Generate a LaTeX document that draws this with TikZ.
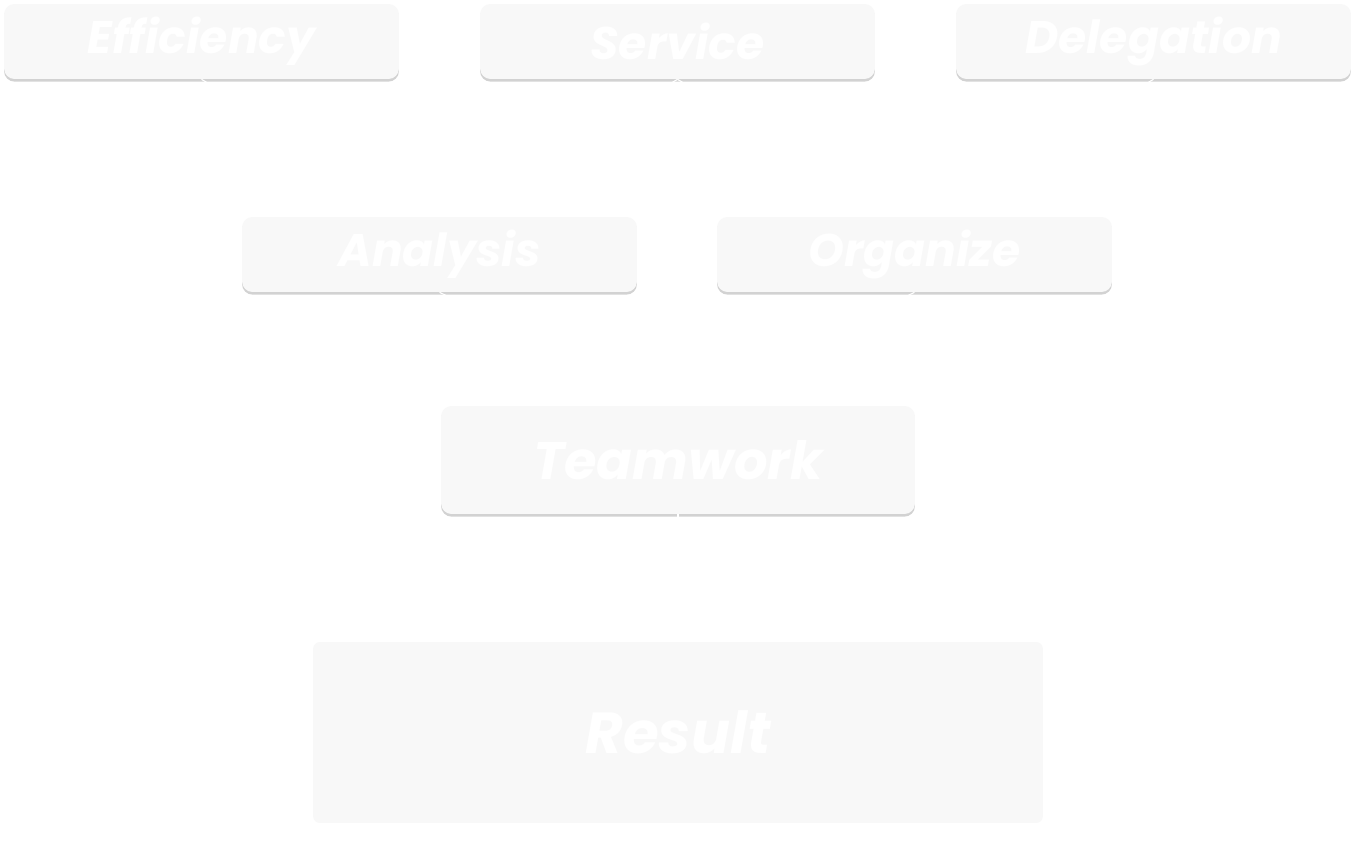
\documentclass[tikz,border=0pt]{standalone}
\usepackage{fontspec}
\setmainfont{Poppins}
\usetikzlibrary{shadows}

\definecolor{boxgray}{HTML}{F8F8F8}

\tikzset{
  card/.style={fill=boxgray, rounded corners=6pt, minimum width=7.9cm, minimum height=1.5cm,
    drop shadow={opacity=0.35, shadow xshift=0pt, shadow yshift=-1.5pt},
    text=white, font=\fontsize{26}{30}\selectfont\bfseries\itshape},
  bigcard/.style={card, minimum width=9.48cm, minimum height=2.16cm,
    font=\fontsize{30}{34}\selectfont\bfseries\itshape},
  link/.style={draw=white, line width=0.6pt}
}

\begin{document}
\begin{tikzpicture}[x=0.02cm, y=-0.02cm]

\useasboundingbox[fill=white] (0,0) rectangle (1354,864);

\node[card] at (201.5,41.5) (eff) {Efficiency};
\node[card] at (677.5,41.5) (serv) {Service};
\node[card] at (1153.5,41.5) (deleg) {Delegation};

\node[card] at (439.5,254.5) (anal) {Analysis};
\node[card] at (914.5,254.5) (org) {Organize};

\node[bigcard] at (678,460) (team) {Teamwork};

\node[fill=boxgray, rounded corners=4pt, minimum width=14.6cm, minimum height=3.62cm,
  text=white, font=\fontsize{33}{37}\selectfont\bfseries\itshape] at (678,732.5) (res) {Result};

\draw[link] (eff.south) -- (anal.north);
\draw[link] (serv.south) -- (anal.north);
\draw[link] (serv.south) -- (org.north);
\draw[link] (deleg.south) -- (org.north);
\draw[link] (anal.south) -- (team.north);
\draw[link] (org.south) -- (team.north);
\draw[link] (team.south) -- (res.north);

\end{tikzpicture}
\end{document}
